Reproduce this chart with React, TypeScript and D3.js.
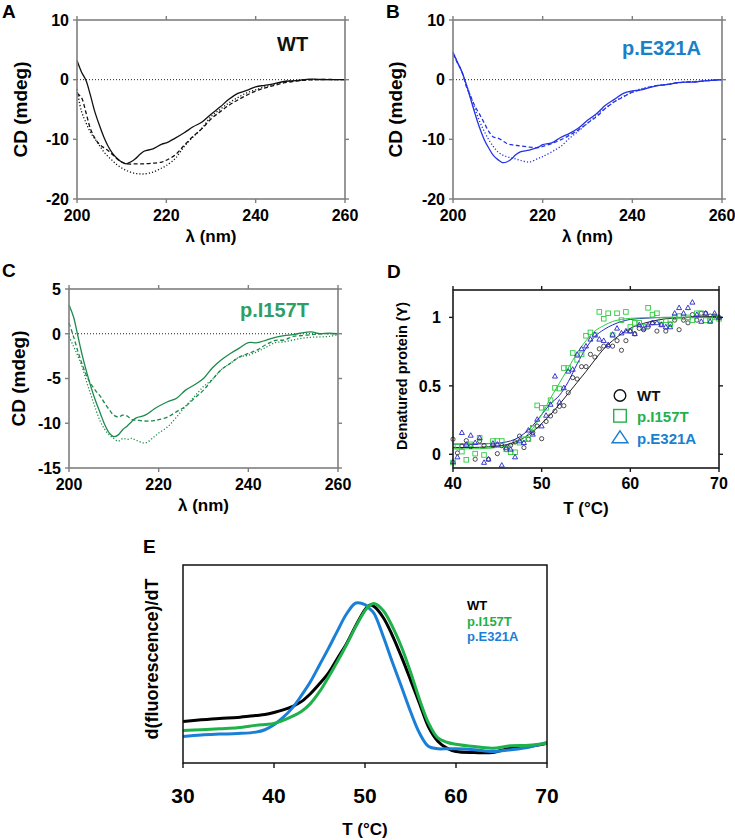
import React from "react";
import * as d3 from "d3";

const FONT = "'Liberation Sans', Arial, Helvetica, sans-serif";

// ---------- CD spectra (panels A–C) ----------
const wavelengths = [200, 201, 202, 203, 204, 205, 206, 207, 208, 209, 210, 211, 212, 213, 214, 215, 217, 219, 220, 222, 224, 226, 228, 230, 232, 234, 236, 238, 240, 242, 244, 246, 248, 250, 252, 254, 256, 258, 260];

const wtSolid = [3.2, 1.3, -0.1, -2.6, -5.4, -7.6, -9.6, -11.2, -12.4, -13.2, -13.8, -14.1, -13.8, -13.3, -12.6, -12.0, -11.6, -10.8, -10.6, -9.8, -8.9, -7.9, -7.1, -5.8, -4.6, -3.3, -2.3, -1.8, -1.2, -0.95, -0.7, -0.35, -0.2, -0.1, 0.1, 0.05, 0, 0, 0];
const wtDashed = [-2.3, -3.0, -5.5, -8.2, -9.8, -10.8, -11.4, -11.9, -12.6, -13.3, -13.8, -14.1, -14.15, -14.1, -14.1, -14.1, -14.0, -13.8, -13.5, -12.6, -11.0, -9.5, -8.2, -6.6, -5.4, -4.3, -3.4, -2.6, -1.9, -1.4, -1.0, -0.6, -0.35, -0.15, -0.05, 0, 0.05, 0, 0];
const wtDotted = [-1.6, -5.3, -7.2, -8.8, -9.9, -11.0, -12.1, -12.9, -13.6, -14.3, -14.8, -15.2, -15.5, -15.7, -15.8, -15.8, -15.5, -14.8, -14.4, -13.2, -11.2, -9.6, -8.1, -6.2, -5.0, -3.9, -3.0, -2.2, -1.7, -1.2, -0.8, -0.4, -0.2, -0.1, 0, 0, 0, 0, 0];

const e321aSolid = [4.6, 2.9, 1.3, -0.9, -3.4, -5.9, -8.2, -10.1, -11.5, -12.7, -13.4, -13.9, -13.8, -13.3, -12.6, -12.1, -11.8, -11.3, -10.9, -10.6, -9.7, -9.0, -8.1, -6.8, -5.7, -4.3, -3.3, -2.3, -1.9, -1.7, -1.3, -0.95, -0.8, -0.5, -0.4, -0.4, -0.2, -0.1, 0];
const e321aDashed = [4.3, 2.8, 1.3, -1.2, -2.9, -4.6, -5.9, -7.3, -8.7, -9.6, -9.8, -10.2, -10.7, -10.9, -11.0, -11.1, -11.3, -11.4, -11.2, -10.7, -10.1, -9.3, -8.4, -7.3, -6.2, -4.8, -3.7, -2.9, -2.1, -1.7, -1.2, -0.95, -0.8, -0.55, -0.4, -0.35, -0.25, -0.1, 0];
const e321aDotted = [4.6, 2.9, 1.3, -0.9, -2.9, -5.1, -7.1, -8.7, -10.1, -11.2, -12.1, -12.6, -12.9, -13.1, -13.3, -13.5, -13.8, -13.2, -12.9, -12.1, -11.2, -9.8, -8.6, -7.3, -5.9, -4.8, -3.7, -2.8, -2.1, -1.5, -1.2, -0.95, -0.75, -0.55, -0.4, -0.3, -0.2, -0.1, 0];

const i157tSolid = [3.2, 1.9, -0.3, -2.5, -4.4, -6.1, -7.6, -8.9, -10.2, -11.1, -11.5, -11.3, -10.7, -10.3, -9.8, -9.4, -9.1, -8.4, -8.1, -7.6, -7.2, -6.3, -5.7, -5.0, -3.8, -2.9, -2.2, -1.6, -1.0, -1.0, -0.7, -0.4, -0.2, -0.1, 0.1, 0.2, 0, 0.07, 0];
const i157tDashed = [1.2, -0.3, -2.0, -3.5, -4.8, -5.7, -6.4, -7.0, -7.8, -8.5, -9.1, -9.3, -9.1, -9.2, -9.6, -9.65, -9.75, -9.7, -9.6, -9.3, -8.7, -8.1, -7.2, -6.3, -5.1, -4.0, -3.3, -2.6, -2.2, -1.8, -1.2, -0.75, -0.7, -0.3, -0.2, -0.1, 0, 0, 0];
const i157tDotted = [-0.3, -1.4, -2.5, -3.8, -5.5, -7.0, -8.5, -9.8, -10.7, -11.3, -11.7, -12.0, -11.7, -11.8, -11.7, -11.9, -12.2, -11.5, -11.1, -10.4, -9.3, -8.1, -7.0, -5.9, -5.1, -4.0, -3.3, -2.6, -2.4, -2.0, -1.5, -1.0, -0.9, -0.7, -0.5, -0.4, -0.35, -0.3, -0.1];

const wlTicks = [200, 220, 240, 260];
const cdTicksAB = [-20, -10, 0, 10];
const cdTicksC = [-15, -10, -5, 0, 5];

// ---------- Thermal denaturation (panel D) ----------
const temps = [40, 40.5, 41, 41.5, 42, 42.5, 43, 43.5, 44, 44.5, 45, 45.5, 46, 46.5, 47, 47.5, 48, 48.5, 49, 49.5, 50, 50.5, 51, 51.5, 52, 52.5, 53, 53.5, 54, 54.5, 55, 55.5, 56, 56.5, 57, 57.5, 58, 58.5, 59, 59.5, 60, 60.5, 61, 61.5, 62, 62.5, 63, 63.5, 64, 64.5, 65, 65.5, 66, 66.5, 67, 67.5, 68, 68.5, 69, 69.5, 70];
const wtY = [0.11, 0.01, 0.06, 0.1, 0.056, -0.036, 0.097, 0.063, -0.036, 0.063, 0.005, 0.063, 0.036, 0.066, 0.09, 0.133, 0.049, 0.11, 0.158, 0.206, 0.114, 0.24, 0.28, 0.315, 0.35, 0.355, 0.45, 0.56, 0.55, 0.64, 0.64, 0.73, 0.71, 0.77, 0.79, 0.79, 0.79, 0.83, 0.76, 0.83, 0.9, 0.88, 0.92, 0.91, 0.93, 0.96, 0.9, 0.95, 0.9, 0.95, 0.98, 0.91, 0.98, 0.96, 1.02, 0.98, 1.03, 1.03, 1.01, 1.01, 1.0];
const i157tY = [-0.06, 0.056, 0.02, -0.04, 0.073, 0.005, 0.12, -0.005, 0.063, 0.097, 0.097, 0.097, 0.036, 0.015, 0.015, 0.085, 0.11, 0.11, 0.194, 0.357, 0.34, 0.34, 0.395, 0.485, 0.48, 0.63, 0.63, 0.74, 0.69, 0.73, 0.866, 0.89, 0.87, 1.04, 0.99, 1.03, 0.87, 1.03, 0.98, 1.04, 0.93, 0.96, 0.96, 0.93, 1.07, 1.02, 1.03, 0.98, 0.98, 0.95, 1.0, 1.01, 1.0, 1.0, 0.98, 1.03, 1.03, 0.98, 0.98, 1.0, 0.99];
const e321aY = [-0.055, -0.02, 0.158, 0.073, 0.138, 0.085, 0.12, -0.06, -0.036, 0.08, 0.073, -0.08, 0.05, 0.036, -0.02, 0.097, 0.085, 0.176, 0.146, 0.255, 0.206, 0.284, 0.364, 0.57, 0.38, 0.485, 0.606, 0.62, 0.73, 0.77, 0.79, 0.84, 0.875, 0.84, 0.83, 0.8, 0.875, 0.92, 0.885, 0.9, 0.9, 0.88, 0.945, 0.92, 0.945, 0.96, 0.96, 0.945, 0.93, 0.93, 1.03, 1.07, 1.03, 1.07, 1.11, 1.02, 0.97, 1.03, 0.97, 1.03, 1.0];

const fitT = [40, 42, 44, 46, 47, 48, 49, 50, 51, 52, 53, 54, 55, 56, 57, 58, 59, 60, 62, 64, 66, 68, 70];
const wtFit = [0.05, 0.05, 0.055, 0.07, 0.09, 0.12, 0.165, 0.225, 0.29, 0.365, 0.445, 0.525, 0.605, 0.69, 0.77, 0.83, 0.88, 0.92, 0.965, 0.99, 1.0, 1.005, 1.007];
const i157tFit = [0.04, 0.04, 0.045, 0.06, 0.08, 0.12, 0.19, 0.29, 0.41, 0.52, 0.63, 0.74, 0.83, 0.9, 0.94, 0.97, 0.985, 0.993, 0.998, 1.0, 1.0, 1.0, 1.0];
const e321aFit = [0.075, 0.075, 0.078, 0.09, 0.11, 0.15, 0.21, 0.29, 0.37, 0.43, 0.53, 0.66, 0.775, 0.86, 0.91, 0.945, 0.97, 0.985, 0.995, 1.0, 1.0, 1.0, 1.0];
const dXTicks = [40, 50, 60, 70];
const dYTicks = [0, 0.5, 1];
const dYLabels = ["0", "0.5", "1"];

// ---------- Derivative melt curves (panel E) ----------
const meltT = [30, 32, 34, 36, 38, 39, 40, 41, 42, 43, 44, 45, 46, 47, 48, 49, 50, 50.5, 51, 52, 53, 54, 55, 56, 57, 58, 59, 60, 62, 64, 66, 68, 70];
const wtDeriv = [0.21, 0.218, 0.225, 0.23, 0.24, 0.245, 0.255, 0.268, 0.285, 0.31, 0.35, 0.4, 0.455, 0.53, 0.605, 0.695, 0.775, 0.797, 0.79, 0.735, 0.645, 0.537, 0.42, 0.3, 0.18, 0.11, 0.075, 0.058, 0.053, 0.053, 0.075, 0.083, 0.1];
const i157tDeriv = [0.164, 0.168, 0.173, 0.178, 0.19, 0.195, 0.2, 0.215, 0.235, 0.26, 0.3, 0.36, 0.435, 0.515, 0.6, 0.69, 0.77, 0.795, 0.805, 0.77, 0.69, 0.587, 0.46, 0.32, 0.2, 0.127, 0.105, 0.095, 0.083, 0.075, 0.087, 0.09, 0.1];
const e321aDeriv = [0.134, 0.142, 0.146, 0.149, 0.156, 0.168, 0.193, 0.23, 0.277, 0.34, 0.41, 0.495, 0.58, 0.67, 0.755, 0.808, 0.8, 0.78, 0.755, 0.64, 0.51, 0.386, 0.26, 0.15, 0.083, 0.072, 0.072, 0.072, 0.067, 0.058, 0.067, 0.08, 0.104];
const eXTicks = [30, 40, 50, 60, 70];

const legendNames = ["WT", "p.I157T", "p.E321A"];

// ---------- helpers ----------
type Box = { left: number; right: number; top: number; bottom: number };

function Frame({ box, color, width }: { box: Box; color: string; width: number }) {
  return (
    <rect x={box.left} y={box.top} width={box.right - box.left} height={box.bottom - box.top} fill="none" stroke={color} strokeWidth={width} />
  );
}

function CDPanel(props: {
  box: Box;
  yDomain: [number, number];
  yTicks: number[];
  series: { values: number[]; dash: string | null }[];
  color: string;
  title: string;
  titleColor: string;
  titleX: number;
  titleY: number;
  letter: string;
  letterX: number;
  letterY: number;
  yTitleX: number;
}) {
  const { box } = props;
  const x = d3.scaleLinear().domain([200, 260]).range([box.left, box.right]);
  const y = d3.scaleLinear().domain(props.yDomain).range([box.bottom, box.top]);
  const line = d3
    .line<number>()
    .x((_, i) => x(wavelengths[i]))
    .y((v) => y(v))
    .curve(d3.curveCatmullRom);
  const frameColor = "#7f7f7f";
  return (
    <g>
      <text x={props.letterX} y={props.letterY} fontFamily={FONT} fontWeight="bold" fontSize={19}>{props.letter}</text>
      <line x1={box.left} x2={box.right} y1={y(0)} y2={y(0)} stroke="#222" strokeWidth={1} strokeDasharray="1,2" />
      {props.series.map((s, i) => (
        <path key={i} d={line(s.values) || ""} fill="none" stroke={props.color} strokeWidth={1.3}
          strokeDasharray={s.dash || undefined} />
      ))}
      <Frame box={box} color={frameColor} width={1.6} />
      {props.yTicks.map((t) => (
        <g key={"y" + t}>
          <line x1={box.left - 4} x2={box.left} y1={y(t)} y2={y(t)} stroke={frameColor} strokeWidth={1.4} />
          <line x1={box.right} x2={box.right + 4} y1={y(t)} y2={y(t)} stroke={frameColor} strokeWidth={1.4} />
          <text x={box.left - 8} y={y(t)} dy="0.36em" textAnchor="end" fontFamily={FONT} fontWeight="bold" fontSize={16}>{t}</text>
        </g>
      ))}
      {wlTicks.map((t) => (
        <g key={"x" + t}>
          <line x1={x(t)} x2={x(t)} y1={box.bottom} y2={box.bottom + 4} stroke={frameColor} strokeWidth={1.4} />
          <line x1={x(t)} x2={x(t)} y1={box.top - 4} y2={box.top} stroke={frameColor} strokeWidth={1.4} />
          <text x={x(t)} y={box.bottom + 22} textAnchor="middle" fontFamily={FONT} fontWeight="bold" fontSize={16}>{t}</text>
        </g>
      ))}
      <text x={(box.left + box.right) / 2} y={box.bottom + 43} textAnchor="middle" fontFamily={FONT} fontWeight="bold" fontSize={17}>λ (nm)</text>
      <text transform={`translate(${props.yTitleX},${(box.top + box.bottom) / 2}) rotate(-90)`} textAnchor="middle" dy="0.35em" fontFamily={FONT} fontWeight="bold" fontSize={19}>CD (mdeg)</text>
      <text x={props.titleX} y={props.titleY} fontFamily={FONT} fontWeight="bold" fontSize={20} fill={props.titleColor}>{props.title}</text>
    </g>
  );
}

function triPath(cx: number, cy: number, w: number, h: number) {
  return `M${cx},${cy - h * 0.6}L${cx + w / 2},${cy + h * 0.4}L${cx - w / 2},${cy + h * 0.4}Z`;
}

function PanelD() {
  const box: Box = { left: 453, right: 719, top: 290, bottom: 468 };
  const x = d3.scaleLinear().domain([40, 70]).range([box.left, box.right]);
  const y = d3.scaleLinear().domain([-0.1, 1.2]).range([box.bottom, box.top]);
  const fitLine = d3
    .line<number>()
    .x((_, i) => x(fitT[i]))
    .y((v) => y(v))
    .curve(d3.curveMonotoneX);
  const frameColor = "#1a1a1a";
  const cBlack = "#222222";
  const cGreen = "#2ecc40";
  const cBlue = "#2626c8";
  return (
    <g>
      <text x={387} y={278} fontFamily={FONT} fontWeight="bold" fontSize={19}>D</text>
      <path d={fitLine(wtFit) || ""} fill="none" stroke={cBlack} strokeWidth={1} />
      <path d={fitLine(e321aFit) || ""} fill="none" stroke={cBlue} strokeWidth={1} />
      <path d={fitLine(i157tFit) || ""} fill="none" stroke={cGreen} strokeWidth={1} />
      {temps.map((t, i) => (
        <circle key={"c" + i} cx={x(t)} cy={y(wtY[i])} r={2.1} fill="none" stroke={cBlack} strokeWidth={0.8} />
      ))}
      {temps.map((t, i) => (
        <rect key={"s" + i} x={x(t) - 2.3} y={y(i157tY[i]) - 2.3} width={4.6} height={4.6} fill="none" stroke={cGreen} strokeWidth={0.9} />
      ))}
      {temps.map((t, i) => (
        <path key={"t" + i} d={triPath(x(t), y(e321aY[i]), 5, 4.5)} fill="none" stroke={cBlue} strokeWidth={0.9} />
      ))}
      <Frame box={box} color={frameColor} width={1.6} />
      {dYTicks.map((t, i) => (
        <g key={"y" + t}>
          <line x1={box.left - 4} x2={box.left} y1={y(t)} y2={y(t)} stroke={frameColor} strokeWidth={1.4} />
          <line x1={box.right} x2={box.right + 4} y1={y(t)} y2={y(t)} stroke={frameColor} strokeWidth={1.4} />
          <text x={box.left - 12} y={y(t)} dy="0.36em" textAnchor="end" fontFamily={FONT} fontWeight="bold" fontSize={16}>{dYLabels[i]}</text>
        </g>
      ))}
      {dXTicks.map((t) => (
        <g key={"x" + t}>
          <line x1={x(t)} x2={x(t)} y1={box.bottom} y2={box.bottom + 4} stroke={frameColor} strokeWidth={1.4} />
          <line x1={x(t)} x2={x(t)} y1={box.top - 4} y2={box.top} stroke={frameColor} strokeWidth={1.4} />
          <text x={x(t)} y={box.bottom + 21} textAnchor="middle" fontFamily={FONT} fontWeight="bold" fontSize={16}>{t}</text>
        </g>
      ))}
      <text x={(box.left + box.right) / 2} y={box.bottom + 46} textAnchor="middle" fontFamily={FONT} fontWeight="bold" fontSize={17}>T (°C)</text>
      <text transform={`translate(402,${(box.top + box.bottom) / 2 - 3}) rotate(-90)`} textAnchor="middle" dy="0.35em" fontFamily={FONT} fontWeight="bold" fontSize={14.5}>Denatured protein (Y)</text>
      {/* legend */}
      <circle cx={620} cy={395.5} r={5.8} fill="none" stroke="#111" strokeWidth={1.4} />
      <text x={637} y={401} fontFamily={FONT} fontWeight="bold" fontSize={15} fill="#111">{legendNames[0]}</text>
      <rect x={613.7} y={409.5} width={12.6} height={12.6} fill="none" stroke="#22b14c" strokeWidth={1.4} />
      <text x={637} y={421.5} fontFamily={FONT} fontWeight="bold" fontSize={15} fill="#22b14c">{legendNames[1]}</text>
      <path d={triPath(620, 438, 16, 12)} fill="none" stroke="#1a7fd0" strokeWidth={1.4} />
      <text x={637} y={443.5} fontFamily={FONT} fontWeight="bold" fontSize={15} fill="#1a7fd0">{legendNames[2]}</text>
    </g>
  );
}

function PanelE() {
  const box: Box = { left: 183, right: 547, top: 565, bottom: 763 };
  const x = d3.scaleLinear().domain([30, 70]).range([box.left, box.right]);
  const y = d3.scaleLinear().domain([0, 1]).range([box.bottom, box.top]);
  const line = d3
    .line<number>()
    .x((_, i) => x(meltT[i]))
    .y((v) => y(v))
    .curve(d3.curveCatmullRom);
  const cGreen = "#1fb14a";
  const cBlue = "#1a7fd6";
  return (
    <g>
      <text x={143} y={553} fontFamily={FONT} fontWeight="bold" fontSize={19}>E</text>
      <path d={line(wtDeriv) || ""} fill="none" stroke="#000" strokeWidth={3} />
      <path d={line(e321aDeriv) || ""} fill="none" stroke={cBlue} strokeWidth={3} />
      <path d={line(i157tDeriv) || ""} fill="none" stroke={cGreen} strokeWidth={3} />
      <Frame box={box} color="#111" width={1.5} />
      {eXTicks.map((t) => (
        <g key={"x" + t}>
          <line x1={x(t)} x2={x(t)} y1={box.bottom} y2={box.bottom + 5} stroke="#111" strokeWidth={1.4} />
          <text x={x(t)} y={box.bottom + 40} textAnchor="middle" fontFamily={FONT} fontWeight="bold" fontSize={21}>{t}</text>
        </g>
      ))}
      <text x={(box.left + box.right) / 2} y={box.bottom + 72} textAnchor="middle" fontFamily={FONT} fontWeight="bold" fontSize={17}>T (°C)</text>
      <text transform={`translate(152,${(box.top + box.bottom) / 2 - 5}) rotate(-90)`} textAnchor="middle" dy="0.35em" fontFamily={FONT} fontWeight="bold" fontSize={18}>d(fluorescence)/dT</text>
      <text x={467} y={610} fontFamily={FONT} fontWeight="bold" fontSize={13} fill="#000">{legendNames[0]}</text>
      <text x={467} y={625.5} fontFamily={FONT} fontWeight="bold" fontSize={13} fill={cGreen}>{legendNames[1]}</text>
      <text x={467} y={641} fontFamily={FONT} fontWeight="bold" fontSize={13} fill={cBlue}>{legendNames[2]}</text>
    </g>
  );
}

export default function App() {
  return (
    <svg width={735} height={840} style={{ position: "absolute", left: 0, top: 0, background: "#fff" }}>
      <rect x={0} y={0} width={735} height={840} fill="#fff" />
      <CDPanel
        box={{ left: 77, right: 345, top: 20, bottom: 199 }}
        yDomain={[-20, 10]}
        yTicks={cdTicksAB}
        series={[
          { values: wtSolid, dash: null },
          { values: wtDashed, dash: "4,2.5" },
          { values: wtDotted, dash: "1.2,2" },
        ]}
        color="#111"
        title="WT"
        titleColor="#111"
        titleX={277}
        titleY={51}
        letter="A"
        letterX={2}
        letterY={18}
        yTitleX={20}
      />
      <CDPanel
        box={{ left: 453, right: 722, top: 20, bottom: 199 }}
        yDomain={[-20, 10]}
        yTicks={cdTicksAB}
        series={[
          { values: e321aSolid, dash: null },
          { values: e321aDashed, dash: "4,2.5" },
          { values: e321aDotted, dash: "1.2,2" },
        ]}
        color="#2433e6"
        title="p.E321A"
        titleColor="#1a80c8"
        titleX={622}
        titleY={55}
        letter="B"
        letterX={386}
        letterY={18}
        yTitleX={395}
      />
      <CDPanel
        box={{ left: 69, right: 338, top: 289, bottom: 468 }}
        yDomain={[-15, 5]}
        yTicks={cdTicksC}
        series={[
          { values: i157tSolid, dash: null },
          { values: i157tDashed, dash: "4,2.5" },
          { values: i157tDotted, dash: "1.2,2" },
        ]}
        color="#1b8a4a"
        title="p.I157T"
        titleColor="#2e9e66"
        titleX={240}
        titleY={317}
        letter="C"
        letterX={2}
        letterY={277}
        yTitleX={18}
      />
      <PanelD />
      <PanelE />
    </svg>
  );
}
